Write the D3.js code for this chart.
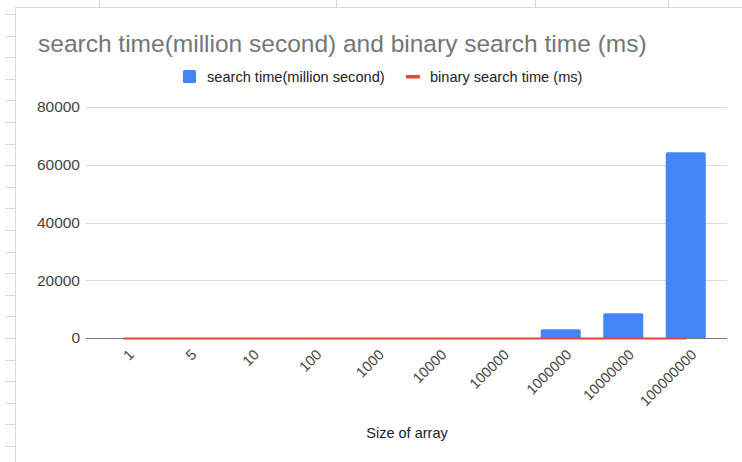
<!DOCTYPE html>
<html>
<head>
<meta charset="utf-8">
<script src="https://cdn.jsdelivr.net/npm/d3@7"></script>
<style>
  html, body { margin: 0; padding: 0; background: #ffffff; }
  svg { display: block; font-family: "Liberation Sans", Arial, sans-serif; }
</style>
</head>
<body>
<svg id="chart" width="742" height="462"></svg>
<script>
// Array sizes tested
const sizes = ["1", "5", "10", "100", "1000", "10000", "100000", "1000000", "10000000", "100000000"];
// Linear search time for each size
const searchTime = [0, 0, 0, 0, 0, 2, 25, 3000, 8600, 64300];
// Binary search time (ms) for each size
const binarySearchTime = [0, 0, 0, 0, 0, 0, 0, 0, 0, 0];
// Value axis ticks
const yTicks = [0, 20000, 40000, 60000, 80000];

const seriesNames = ["search time(million second)", "binary search time (ms)"];
const colors = { bar: "#4285f4", line: "#ea4335" };
const font = "\"Liberation Sans\", Arial, sans-serif";

const svg = d3.select("#chart");

// Spreadsheet grid peeking around the chart card
const sheet = svg.append("g");
[99, 336, 535, 668].forEach(x => {
  sheet.append("line").attr("x1", x + 0.5).attr("x2", x + 0.5).attr("y1", 0).attr("y2", 7)
    .attr("stroke", "#d6d6d6");
});
d3.range(14, 462, 21.6).forEach(y => {
  sheet.append("line").attr("x1", 5).attr("x2", 15).attr("y1", Math.round(y) + 0.5).attr("y2", Math.round(y) + 0.5)
    .attr("stroke", "#d6d6d6");
});

// Chart card
svg.append("rect")
  .attr("x", 15.5).attr("y", 7.5).attr("width", 740).attr("height", 470)
  .attr("fill", "#ffffff").attr("stroke", "#d9d9d9");

// Title
svg.append("text")
  .attr("x", 38).attr("y", 52)
  .attr("font-size", 24.5).attr("fill", "#757575")
  .text("search time(million second) and binary search time (ms)");

// Legend
const legend = svg.append("g").attr("font-size", 14.6).attr("fill", "#222");
legend.append("rect").attr("x", 183).attr("y", 70).attr("width", 13).attr("height", 13)
  .attr("rx", 1.5).attr("fill", colors.bar);
legend.append("text").attr("x", 207).attr("y", 81.5).text(seriesNames[0]);
legend.append("rect").attr("x", 406).attr("y", 75).attr("width", 14).attr("height", 3.5)
  .attr("rx", 1).attr("fill", colors.line);
legend.append("text").attr("x", 430).attr("y", 81.5).text(seriesNames[1]);

// Scales
const plotLeft = 86, plotRight = 727;
const x = d3.scaleBand().domain(sizes).range([92, 717]).paddingInner(0.36).paddingOuter(0.18);
const y = d3.scaleLinear().domain([0, 80000]).range([338, 107]);

// Gridlines and value labels
const yAxis = svg.append("g").attr("transform", `translate(${plotLeft},0)`)
  .call(d3.axisLeft(y).tickValues(yTicks).tickSize(0).tickPadding(6).tickFormat(d3.format("d")));
yAxis.select(".domain").remove();
yAxis.selectAll("text").attr("font-size", 15.5).attr("fill", "#444").attr("font-family", font);
svg.append("g").selectAll("line").data(yTicks.filter(d => d !== 0)).join("line")
  .attr("x1", plotLeft).attr("x2", plotRight)
  .attr("y1", d => Math.round(y(d)) + 0.5).attr("y2", d => Math.round(y(d)) + 0.5)
  .attr("stroke", "#dcdcdc");

// Bars with slightly rounded tops
const barPath = d => {
  const x0 = x(d.k), w = x.bandwidth(), y0 = y(d.v), y1 = y(0);
  const r = Math.min(2, (y1 - y0) / 2);
  if (y1 - y0 <= 0) return "";
  return `M${x0},${y1}V${y0 + r}Q${x0},${y0} ${x0 + r},${y0}H${x0 + w - r}Q${x0 + w},${y0} ${x0 + w},${y0 + r}V${y1}Z`;
};
svg.append("g").selectAll("path")
  .data(sizes.map((k, i) => ({ k, v: searchTime[i] })))
  .join("path").attr("d", barPath).attr("fill", colors.bar);

// Baseline
svg.append("line")
  .attr("x1", plotLeft).attr("x2", plotRight)
  .attr("y1", y(0) + 0.5).attr("y2", y(0) + 0.5)
  .attr("stroke", "#777").attr("stroke-width", 1.2);

// Binary search line
const line = d3.line()
  .x((d, i) => x(sizes[i]) + x.bandwidth() / 2)
  .y(d => y(d) + 0.5);
svg.append("path").datum(binarySearchTime)
  .attr("d", line).attr("fill", "none")
  .attr("stroke", colors.line).attr("stroke-width", 2);

// Category labels, rotated
const xAxis = svg.append("g").attr("transform", `translate(0,${y(0)})`)
  .call(d3.axisBottom(x).tickSize(0).tickPadding(0));
xAxis.select(".domain").remove();
xAxis.selectAll(".tick text")
  .attr("font-size", 14.5).attr("fill", "#444").attr("font-family", font)
  .attr("text-anchor", "end")
  .attr("transform", "translate(8,14) rotate(-45)")
  .attr("dy", "0.35em").attr("y", 0).attr("x", 0);

// Axis title
svg.append("text")
  .attr("x", 407).attr("y", 438).attr("text-anchor", "middle")
  .attr("font-size", 14.5).attr("fill", "#222")
  .text("Size of array");
</script>
</body>
</html>
